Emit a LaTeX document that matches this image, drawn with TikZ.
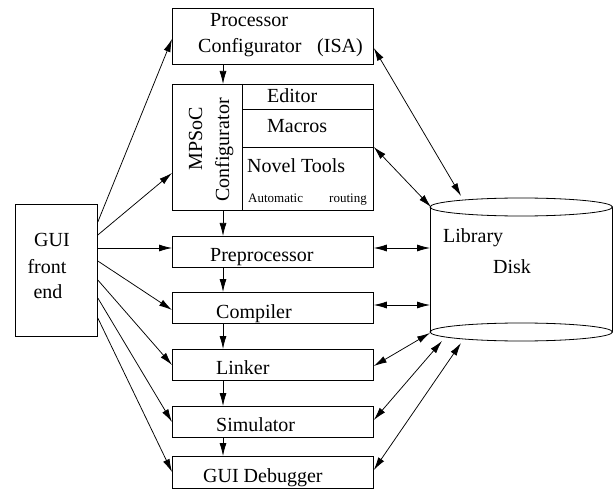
\documentclass[tikz,border=0pt]{standalone}
\usepackage{fontspec}
\setmainfont{Liberation Serif}
\usetikzlibrary{arrows.meta,calc}

\tikzset{
  box/.style={draw, line width=0.8pt, inner sep=0pt, anchor=north west},
  lbl/.style={inner sep=0pt, anchor=base west, font=\fontsize{20}{24}\selectfont},
  small/.style={inner sep=0pt, anchor=base west, font=\fontsize{13}{15}\selectfont},
  arr/.style={line width=0.75pt, -{Latex[length=13pt,width=7pt]}},
  darr/.style={line width=0.75pt, {Latex[length=13pt,width=7pt]}-{Latex[length=13pt,width=7pt]}},
}

\begin{document}
\begin{tikzpicture}[x=1pt,y=-1pt]
\useasboundingbox (0,0) rectangle (613,489);

% tool chain boxes
\node[box, minimum width=201pt, minimum height=56pt]  (proc)  at (172,8)   {};
\node[box, minimum width=201pt, minimum height=126pt] (mpsoc) at (172,84)  {};
\node[box, minimum width=201pt, minimum height=31pt]  (pre)   at (172,236) {};
\node[box, minimum width=201pt, minimum height=31pt]  (comp)  at (172,292) {};
\node[box, minimum width=201pt, minimum height=31pt]  (link)  at (172,349) {};
\node[box, minimum width=201pt, minimum height=31pt]  (sim)   at (172,406) {};
\node[box, minimum width=201pt, minimum height=32pt]  (dbg)   at (172,456) {};
\node[box, minimum width=82pt,  minimum height=132pt] (gui)   at (15,204)  {};

% MPSoC configurator partitions
\coordinate (div) at (242,0);
\draw[line width=0.8pt] (mpsoc.north -| div) -- (mpsoc.south -| div);
\draw[line width=0.8pt] (242,109) -- (mpsoc.east |- 0,109);
\draw[line width=0.8pt] (242,147) -- (mpsoc.east |- 0,147);

% texts
\node[lbl] (tproc)  at (210,27) {Processor};
\node[lbl] (tconf)  at (198,53) {Configurator};
\node[lbl] (tisa)   at (317,53) {(ISA)};
\node[lbl, anchor=base, rotate=90] (tmp)  at (202,139) {MPSoC};
\node[lbl, anchor=base, rotate=90] (tcf)  at (229,150) {Configurator};
\node[lbl] (ted)    at (267,103) {Editor};
\node[lbl] (tmac)   at (267,133) {Macros};
\node[lbl] (tnov)   at (247,173) {Novel Tools};
\node[small] (tauto) at (248,203) {Automatic};
\node[small] (trout) at (329,203) {routing};
\node[lbl] (tpre)   at (210,261) {Preprocessor};
\node[lbl] (tcomp)  at (216,318) {Compiler};
\node[lbl] (tlink)  at (216,374) {Linker};
\node[lbl] (tsim)   at (216,431) {Simulator};
\node[lbl] (tdbg)   at (203,482) {GUI Debugger};
\node[lbl, anchor=base] (tgui)   at (52,247) {GUI};
\node[lbl, anchor=base] (tfront) at (47,273) {front};
\node[lbl, anchor=base] (tend)   at (48,298) {end};

% library disk
\draw[line width=0.8pt] (430,207) -- (430,332);
\draw[line width=0.8pt] (612.5,207) -- (612.5,332);
\draw[line width=0.8pt, fill=white] (521.25,207) ellipse [x radius=91.25pt, y radius=9pt];
\draw[line width=0.8pt, fill=white] (521.25,332) ellipse [x radius=91.25pt, y radius=9pt];
\node[lbl] (tlib)  at (443,242) {Library};
\node[lbl] (tdisk) at (493,273) {Disk};

% disk connection points
\coordinate (dproc) at (461,196);
\coordinate (dmp)   at (431,207);
\coordinate (dpre)  at (430,248);
\coordinate (dcomp) at (430,305);
\coordinate (dlink) at (430,333);
\coordinate (dsim)  at (442,341);
\coordinate (ddbg)  at (461,343);

% vertical flow
\coordinate (col) at (223,0);
\draw[arr] (proc.south -| col) -- (mpsoc.north -| col);
\draw[arr] (mpsoc.south -| col) -- (pre.north -| col);
\draw[arr] (pre.south -| col) -- (comp.north -| col);
\draw[arr] (comp.south -| col) -- (link.north -| col);
\draw[arr] (link.south -| col) -- (sim.north -| col);
\draw[arr] (sim.south -| col) -- (dbg.north -| col);

% GUI front end fan-out
\draw[arr] (gui.east |- 0,222) -- (proc.west |- 0,39);
\draw[arr] (gui.east |- 0,235) -- (mpsoc.west |- 0,173);
\draw[arr] (gui.east |- 0,248) -- (pre.west |- 0,248);
\draw[arr] (gui.east |- 0,261) -- (comp.west |- 0,310);
\draw[arr] (gui.east |- 0,280) -- (link.west |- 0,365);
\draw[arr] (gui.east |- 0,298) -- (sim.west |- 0,422);
\draw[arr] (gui.east |- 0,318) -- (dbg.west |- 0,472);

% library links
\draw[darr] (proc.east |- 0,48)   -- (dproc);
\draw[darr] (mpsoc.east |- 0,147) -- (dmp);
\draw[darr] (pre.east |- dpre)    -- (dpre);
\draw[darr] (comp.east |- dcomp)  -- (dcomp);
\draw[darr] (link.east |- 0,366)  -- (dlink);
\draw[darr] (sim.east |- 0,420)   -- (dsim);
\draw[darr] (dbg.east |- 0,470)   -- (ddbg);
\end{tikzpicture}
\end{document}
